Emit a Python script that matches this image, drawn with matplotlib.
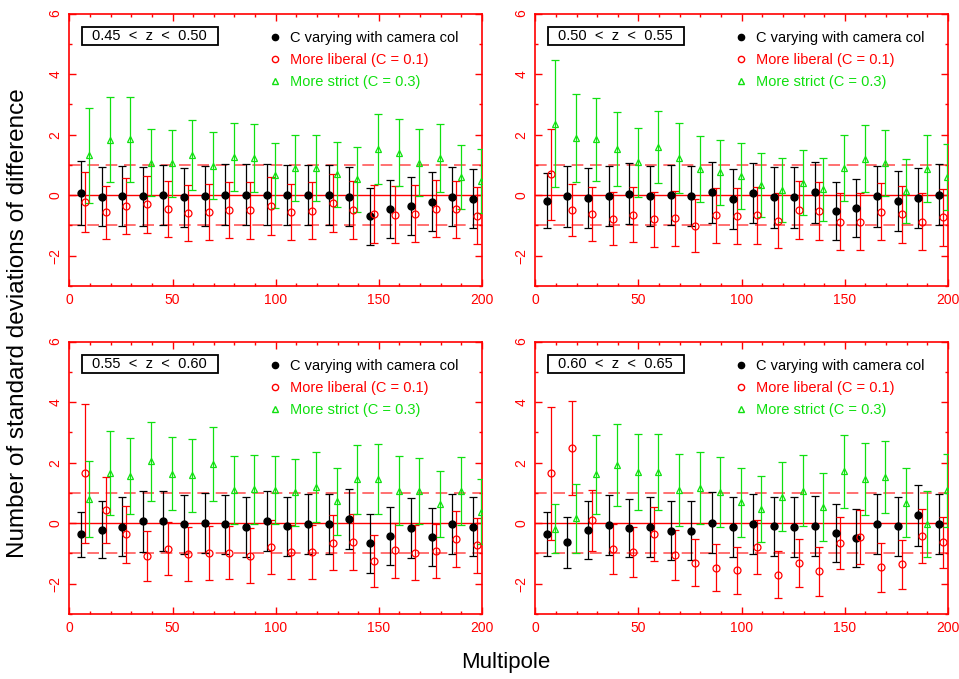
import matplotlib
matplotlib.use('Agg')
import matplotlib.pyplot as plt
import numpy as np
from matplotlib.lines import Line2D
from matplotlib.patches import Rectangle
from matplotlib.ticker import MultipleLocator

plt.rcParams['font.family'] = ['Liberation Sans', 'DejaVu Sans']

# multipole bin centres (same for every panel)
multipole = [5, 15, 25, 35, 45, 55, 65, 75, 85, 95,
             105, 115, 125, 135, 145, 155, 165, 175, 185, 195]

z_labels = ['0.45  <  z  <  0.50', '0.50  <  z  <  0.55',
            '0.55  <  z  <  0.60', '0.60  <  z  <  0.65']

series_labels = ['C varying with camera col',
                 'More liberal (C = 0.1)',
                 'More strict (C = 0.3)']

# ---- 0.45 < z < 0.50
camera_1 = [0.08, -0.05, -0.02, -0.04, 0.0, -0.07, -0.02, 0.02, 0.02, 0.02,
            0.0, 0.0, 0.0, -0.05, -0.69, -0.46, -0.35, -0.21, -0.05, -0.11]
camera_1_err = [1.05, 0.97, 1.0, 0.98, 1.0, 0.97, 1.0, 1.0, 1.0, 1.0,
                1.0, 1.0, 1.0, 0.98, 0.94, 0.97, 0.96, 0.98, 0.98, 0.98]
liberal_1 = [-0.22, -0.57, -0.35, -0.30, -0.46, -0.58, -0.56, -0.48, -0.50, -0.36,
             -0.56, -0.51, -0.25, -0.49, -0.62, -0.64, -0.61, -0.44, -0.47, -0.68]
liberal_1_err = [1.0, 0.87, 0.92, 0.95, 0.93, 0.92, 0.93, 0.92, 0.95, 0.95,
                 0.93, 0.94, 0.96, 0.95, 0.95, 0.95, 0.95, 0.95, 0.94, 0.94]
strict_1 = [1.32, 1.83, 1.85, 1.08, 1.05, 1.32, 0.98, 1.27, 1.23, 0.66,
            0.90, 0.90, 0.69, 0.52, 1.53, 1.41, 1.08, 1.22, 0.61, 0.47]
strict_1_err = [1.57, 1.40, 1.40, 1.12, 1.12, 1.15, 1.10, 1.12, 1.13, 1.08,
                1.10, 1.10, 1.08, 1.07, 1.15, 1.12, 1.10, 1.12, 1.06, 1.07]

# ---- 0.50 < z < 0.55
camera_2 = [-0.18, -0.04, -0.09, -0.02, 0.05, -0.02, 0.0, -0.03, 0.09, -0.13,
            0.08, -0.07, -0.07, 0.09, -0.52, -0.41, -0.04, -0.18, -0.10, 0.02]
camera_2_err = [0.92, 1.0, 0.99, 1.0, 1.0, 1.0, 1.0, 0.98, 1.0, 1.0,
                1.0, 1.0, 1.0, 1.0, 0.96, 0.96, 1.0, 0.99, 1.0, 1.0]
liberal_2 = [0.69, -0.49, -0.62, -0.78, -0.64, -0.80, -0.76, -1.01, -0.67, -0.68,
             -0.66, -0.84, -0.49, -0.52, -0.87, -0.87, -0.54, -0.63, -0.87, -0.73]
liberal_2_err = [1.5, 0.86, 0.88, 0.87, 0.9, 0.9, 0.91, 0.88, 0.92, 0.92,
                 0.94, 0.92, 0.96, 0.95, 0.94, 0.94, 0.95, 0.94, 0.93, 0.94]
strict_2 = [2.36, 1.88, 1.85, 1.52, 1.09, 1.59, 1.23, 0.86, 0.76, 0.63,
            0.34, 0.16, 0.41, 0.19, 0.90, 1.21, 1.07, 0.14, 0.88, 0.60]
strict_2_err = [2.1, 1.45, 1.37, 1.23, 1.14, 1.2, 1.15, 1.1, 1.08, 1.08,
                1.05, 1.06, 1.07, 1.05, 1.1, 1.12, 1.1, 1.05, 1.1, 1.08]

# ---- 0.55 < z < 0.60
camera_3 = [-0.37, -0.21, -0.12, 0.07, 0.08, -0.04, 0.0, -0.04, -0.13, 0.07,
            -0.10, -0.02, -0.02, 0.14, -0.67, -0.43, -0.16, -0.46, -0.02, -0.11]
camera_3_err = [0.73, 0.94, 0.97, 1.01, 1.0, 0.98, 1.0, 0.98, 0.99, 1.0,
                0.98, 1.0, 1.0, 1.0, 0.96, 0.96, 0.98, 0.96, 1.0, 0.98]
liberal_3 = [1.65, 0.44, -0.37, -1.08, -0.84, -1.02, -0.98, -0.97, -1.07, -0.79,
             -0.96, -0.95, -0.65, -0.63, -1.25, -0.90, -0.97, -0.92, -0.53, -0.73]
liberal_3_err = [2.3, 1.1, 0.95, 0.82, 0.88, 0.9, 0.89, 0.88, 0.9, 0.9,
                 0.89, 0.88, 0.91, 0.92, 0.86, 0.9, 0.9, 0.9, 0.92, 0.9]
strict_3 = [0.80, 1.66, 1.57, 2.04, 1.64, 1.58, 1.95, 1.09, 1.12, 1.10,
            1.02, 1.19, 0.73, 1.45, 1.47, 1.08, 1.07, 0.62, 1.07, 0.38]
strict_3_err = [1.26, 1.4, 1.26, 1.3, 1.22, 1.2, 1.22, 1.13, 1.13, 1.12,
                1.1, 1.15, 1.11, 1.14, 1.15, 1.14, 1.1, 1.09, 1.12, 1.08]

# ---- 0.60 < z < 0.65
camera_4 = [-0.35, -0.63, -0.22, -0.07, -0.16, -0.13, -0.25, -0.25, 0.02, -0.13,
            -0.02, -0.10, -0.13, -0.09, -0.32, -0.48, -0.02, -0.10, 0.26, -0.02]
camera_4_err = [0.73, 0.84, 0.95, 0.99, 0.97, 0.98, 0.98, 0.97, 1.0, 0.98,
                1.0, 0.98, 0.98, 0.98, 0.97, 0.96, 1.0, 0.98, 1.0, 1.0]
liberal_4 = [1.65, 2.49, 0.10, -0.86, -0.95, -0.35, -1.04, -1.30, -1.47, -1.56,
             -0.79, -1.70, -1.32, -1.59, -0.66, -0.46, -1.46, -1.36, -0.42, -0.63]
liberal_4_err = [2.2, 1.55, 1.01, 0.82, 0.83, 0.9, 0.83, 0.79, 0.78, 0.78,
                 0.89, 0.78, 0.8, 0.8, 0.85, 0.88, 0.8, 0.81, 0.88, 0.85]
strict_4 = [-0.19, 0.16, 1.62, 1.93, 1.69, 1.69, 1.11, 1.16, 1.03, 0.69,
            0.47, 0.88, 1.08, 0.54, 1.71, 1.46, 1.53, 0.68, -0.02, 1.09]
strict_4_err = [0.81, 1.13, 1.3, 1.35, 1.26, 1.25, 1.19, 1.19, 1.17, 1.14,
                1.1, 1.15, 1.16, 1.13, 1.22, 1.2, 1.2, 1.14, 1.1, 1.2]

GREEN = '#10e010'
RED = '#ff0000'


def draw_panel(ax, zlab, cam, cam_err, lib, lib_err, strict, strict_err):
    x = np.array(multipole, dtype=float)

    ax.axhline(0, color=RED, lw=1.0, zorder=1)
    for yv in (1, -1):
        ax.axhline(yv, color=RED, lw=1.2, ls=(0, (7, 4)), alpha=0.65, zorder=1)

    kw = dict(capsize=2.6, elinewidth=0.9, capthick=0.9, ms=5, zorder=3)
    ax.errorbar(x + 0.6, cam, yerr=cam_err, fmt='o', color='black', **kw)
    ax.errorbar(x + 2.6, lib, yerr=lib_err, fmt='o', mfc='none', mec=RED,
                ecolor=RED, mew=0.9, **kw)
    ax.errorbar(x + 4.6, strict, yerr=strict_err, fmt='^', mfc='none',
                mec=GREEN, ecolor=GREEN, mew=0.9, **kw)

    ax.set_xlim(0, 200)
    ax.set_ylim(-3, 6)
    ax.xaxis.set_major_locator(MultipleLocator(50))
    ax.xaxis.set_minor_locator(MultipleLocator(10))
    ax.yaxis.set_major_locator(MultipleLocator(2))
    ax.yaxis.set_minor_locator(MultipleLocator(1))
    ax.tick_params(which='both', direction='in', top=True, right=True,
                   colors=RED, labelcolor=RED, labelsize=10, width=1.0)
    ax.tick_params(which='major', length=5, pad=5)
    ax.tick_params(which='minor', length=2.5)
    for sp in ax.spines.values():
        sp.set_color(RED)
        sp.set_linewidth(1.2)
    plt.setp(ax.get_yticklabels(), rotation=90, va='center')

    # redshift box
    ax.add_patch(Rectangle((0.031, 0.884), 0.329, 0.066, transform=ax.transAxes,
                           fc='white', ec='black', lw=1.3, zorder=5))
    ax.text(0.195, 0.917, zlab, transform=ax.transAxes, ha='center',
            va='center', fontsize=10.5, zorder=6)

    handles = [Line2D([], [], ls='none', marker='o', color='black', ms=4.5),
               Line2D([], [], ls='none', marker='o', mfc='none', mec=RED, ms=4.5),
               Line2D([], [], ls='none', marker='^', mfc='none', mec=GREEN, ms=4.5)]
    leg = ax.legend(handles, series_labels, loc='upper left',
                    bbox_to_anchor=(0.485, 0.935), frameon=False,
                    handlelength=0.8, handletextpad=0.6, labelspacing=0.55,
                    fontsize=10.5, borderpad=0, borderaxespad=0)
    for t, c in zip(leg.get_texts(), ['black', RED, GREEN]):
        t.set_color(c)


fig, axes = plt.subplots(2, 2, figsize=(9.59, 6.79), dpi=100)
plt.subplots_adjust(left=0.0723, right=0.9885, top=0.980, bottom=0.0957,
                    wspace=0.129, hspace=0.204)

panels = [
    (camera_1, camera_1_err, liberal_1, liberal_1_err, strict_1, strict_1_err),
    (camera_2, camera_2_err, liberal_2, liberal_2_err, strict_2, strict_2_err),
    (camera_3, camera_3_err, liberal_3, liberal_3_err, strict_3, strict_3_err),
    (camera_4, camera_4_err, liberal_4, liberal_4_err, strict_4, strict_4_err),
]

for ax, zlab, data in zip(axes.flat, z_labels, panels):
    draw_panel(ax, zlab, *data)

fig.text(0.019, 0.524, 'Number of standard deviations of difference',
         rotation=90, ha='center', va='center', fontsize=17.5)
fig.text(0.527, 0.024, 'Multipole', ha='center', va='center', fontsize=16)

fig.savefig('out.png', dpi=100)
